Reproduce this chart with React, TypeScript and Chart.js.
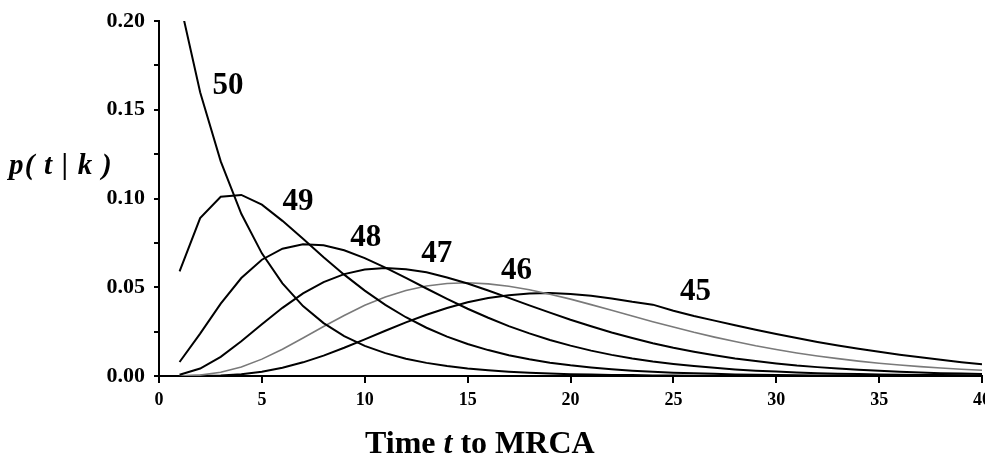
import React, { useEffect, useRef } from 'react';
import { Chart, registerables } from 'chart.js';

Chart.register(...registerables);

// time points (generations)
const times = [1, 2, 3, 4, 5, 6, 7, 8, 9, 10, 11, 12, 13, 14, 15, 16, 17, 18, 19, 20,
  21, 22, 23, 24, 25, 26, 27, 28, 29, 30, 31, 32, 33, 34, 35, 36, 37, 38, 39, 40];

const k50 = [0.2116, 0.1599, 0.1209, 0.0914, 0.0691, 0.0522, 0.0394, 0.0298, 0.0225, 0.0170,
  0.0129, 0.0097, 0.0074, 0.0056, 0.0042, 0.0032, 0.0024, 0.0018, 0.0014, 0.0010,
  0.0008, 0.0006, 0.0005, 0.0003, 0.0003, 0.0002, 0.0002, 0.0001, 0.0001, 0.0001,
  0.0000, 0.0000, 0.0000, 0.0000, 0.0000, 0.0000, 0.0000, 0.0000, 0.0000, 0.0000];

const k49 = [0.0590, 0.0890, 0.1010, 0.1020, 0.0965, 0.0874, 0.0773, 0.0669, 0.0571, 0.0481,
  0.0401, 0.0331, 0.0272, 0.0222, 0.0180, 0.0146, 0.0117, 0.0094, 0.0075, 0.0060,
  0.0048, 0.0038, 0.0030, 0.0024, 0.0019, 0.0015, 0.0012, 0.0009, 0.0007, 0.0006,
  0.0004, 0.0003, 0.0003, 0.0002, 0.0002, 0.0001, 0.0001, 0.0001, 0.0001, 0.0000];

const k48 = [0.0079, 0.0239, 0.0408, 0.0552, 0.0655, 0.0717, 0.0742, 0.0736, 0.0708, 0.0664,
  0.0611, 0.0553, 0.0493, 0.0435, 0.0379, 0.0328, 0.0281, 0.0240, 0.0203, 0.0171,
  0.0143, 0.0119, 0.0099, 0.0082, 0.0068, 0.0056, 0.0046, 0.0037, 0.0030, 0.0025,
  0.0020, 0.0016, 0.0013, 0.0011, 0.0009, 0.0007, 0.0006, 0.0005, 0.0004, 0.0003];

const k47 = [0.0007, 0.0042, 0.0108, 0.0196, 0.0292, 0.0384, 0.0465, 0.0529, 0.0574, 0.0600,
  0.0609, 0.0602, 0.0584, 0.0555, 0.0521, 0.0482, 0.0440, 0.0398, 0.0357, 0.0317,
  0.0280, 0.0245, 0.0214, 0.0185, 0.0159, 0.0137, 0.0117, 0.0099, 0.0084, 0.0071,
  0.0059, 0.0050, 0.0042, 0.0035, 0.0029, 0.0024, 0.0020, 0.0016, 0.0014, 0.0011];

const k46 = [0.0000, 0.0005, 0.0021, 0.0051, 0.0095, 0.0151, 0.0214, 0.0279, 0.0341, 0.0398,
  0.0445, 0.0482, 0.0507, 0.0521, 0.0525, 0.0519, 0.0506, 0.0486, 0.0461, 0.0433,
  0.0402, 0.0370, 0.0338, 0.0306, 0.0276, 0.0246, 0.0219, 0.0194, 0.0170, 0.0149,
  0.0130, 0.0113, 0.0098, 0.0084, 0.0072, 0.0062, 0.0053, 0.0045, 0.0038, 0.0032];

const k45 = [0.0000, 0.0001, 0.0003, 0.0010, 0.0024, 0.0047, 0.0077, 0.0115, 0.0159, 0.0206,
  0.0255, 0.0302, 0.0345, 0.0383, 0.0415, 0.0439, 0.0455, 0.0465, 0.0467, 0.0462,
  0.0452, 0.0437, 0.0418, 0.0402, 0.0368, 0.0338, 0.0312, 0.0286, 0.0261, 0.0237,
  0.0214, 0.0192, 0.0172, 0.0153, 0.0136, 0.0120, 0.0105, 0.0091, 0.0078, 0.0066];

const seriesNames = ['50', '49', '48', '47', '46', '45'];
const seriesValues = [k50, k49, k48, k47, k46, k45];
const seriesColors = ['#000000', '#000000', '#000000', '#000000', '#7a7a7a', '#000000'];

// curve label anchors (data coordinates, label centre)
const labelT = [3.35, 6.75, 10.05, 13.5, 17.38, 26.07];
const labelV = [0.165, 0.0997, 0.0794, 0.0699, 0.0608, 0.0485];

const yTickStep = 0.025;
const xTickStep = 5;

const SERIF = '"Liberation Serif", "Times New Roman", serif';

const textPlugin = {
  id: 'customText',
  afterDraw(chart: any) {
    const { ctx, chartArea, scales } = chart;
    const xs = scales.x;
    const ys = scales.y;
    ctx.save();
    ctx.fillStyle = '#000';
    ctx.textBaseline = 'alphabetic';
    // curve labels
    ctx.font = `bold 31px ${SERIF}`;
    ctx.textAlign = 'center';
    seriesNames.forEach((n, i) => {
      ctx.fillText(n, xs.getPixelForValue(labelT[i]), ys.getPixelForValue(labelV[i]) + 10.5);
    });
    // x axis title: "Time t to MRCA"
    ctx.textAlign = 'left';
    const bx = chartArea.left + 206;
    const by = chartArea.bottom + 77;
    ctx.font = `bold 32px ${SERIF}`;
    const p1 = 'Time ';
    ctx.fillText(p1, bx, by);
    let w = ctx.measureText(p1).width;
    ctx.font = `italic bold 32px ${SERIF}`;
    ctx.fillText('t', bx + w, by);
    w += ctx.measureText('t').width;
    ctx.font = `bold 32px ${SERIF}`;
    ctx.fillText(' to MRCA', bx + w, by);
    // y axis title
    ctx.font = `italic bold 29px ${SERIF}`;
    try { (ctx as any).letterSpacing = '1.2px'; } catch (e) { /* ignore */ }
    ctx.fillText('p( t | k )', 9, 174);
    ctx.restore();
  },
};

export default function App() {
  const ref = useRef<HTMLCanvasElement | null>(null);
  useEffect(() => {
    if (!ref.current) return;
    const chart = new Chart(ref.current, {
      type: 'line',
      data: {
        datasets: seriesNames.map((n, i) => ({
          label: n,
          data: times.map((t, j) => ({ x: t, y: seriesValues[i][j] })),
          borderColor: seriesColors[i],
          borderWidth: i === 4 ? 1.6 : 2,
          pointRadius: 0,
          tension: 0,
          fill: false,
        })),
      },
      options: {
        animation: false,
        responsive: true,
        maintainAspectRatio: false,
        layout: { padding: { top: 21, right: 3, left: 0, bottom: 0 } },
        plugins: {
          legend: { display: false },
          tooltip: { enabled: false },
          title: { display: false },
        },
        scales: {
          x: {
            type: 'linear',
            min: 0,
            max: 40,
            ticks: {
              stepSize: xTickStep,
              color: '#000',
              padding: 7,
              maxRotation: 0,
              font: { family: SERIF, weight: 'bold', size: 18 },
            },
            grid: { drawOnChartArea: false, drawTicks: true, tickLength: 7, color: '#000', lineWidth: 2 },
            border: { display: true, color: '#000', width: 2 },
            afterFit: (s: any) => {
              s.height = 86;
              s.paddingLeft = 0;
              s.paddingRight = 0;
            },
          },
          y: {
            type: 'linear',
            min: 0,
            max: 0.2,
            ticks: {
              stepSize: yTickStep,
              color: '#000',
              padding: 9,
              font: { family: SERIF, weight: 'bold', size: 22 },
              callback: (v: any) => (Math.round(Number(v) * 1000) % 50 === 0 ? Number(v).toFixed(2) : ''),
            },
            grid: { drawOnChartArea: false, drawTicks: true, tickLength: 5, color: '#000', lineWidth: 2 },
            border: { display: true, color: '#000', width: 2 },
            afterFit: (s: any) => {
              s.width = 159;
              s.paddingTop = 0;
              s.paddingBottom = 0;
            },
          },
        },
      },
      plugins: [textPlugin],
    });
    return () => chart.destroy();
  }, []);
  return (
    <div style={{ position: 'absolute', left: 0, top: 0, width: 985, height: 462, background: '#fff' }}>
      <canvas ref={ref} />
    </div>
  );
}
